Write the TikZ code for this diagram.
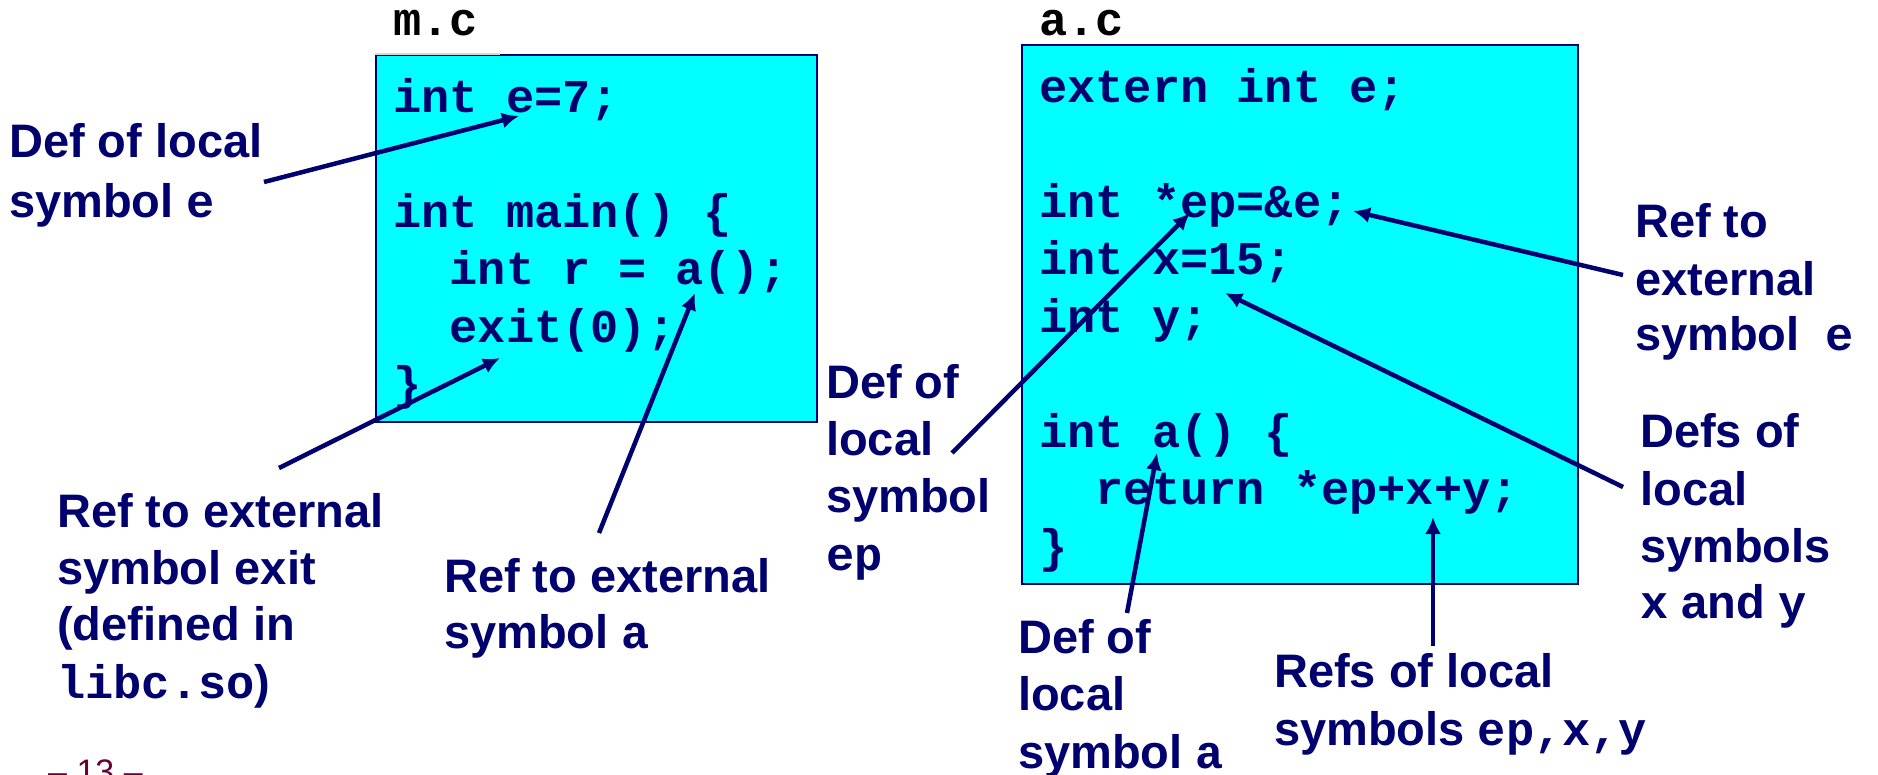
\documentclass[tikz,border=0pt]{standalone}
\usepackage{fontspec}
\setmainfont{Liberation Sans}
\newfontfamily\codefont{Liberation Mono}
\usetikzlibrary{arrows.meta}
\definecolor{navy}{RGB}{0,0,110}
\definecolor{boxcyan}{RGB}{0,255,255}
\definecolor{pagered}{RGB}{102,0,51}
\begin{document}
\begin{tikzpicture}[x=1pt,y=-1pt,
  lbl/.style={anchor=base west, inner sep=0pt, text=navy, font=\bfseries\fontsize{47}{56}\selectfont},
  code/.style={anchor=base west, inner sep=0pt, text=navy, font=\codefont\bfseries\fontsize{47}{56}\selectfont},
  fname/.style={anchor=base west, inner sep=0pt, text=black, font=\codefont\bfseries\fontsize{47}{56}\selectfont},
  srcbox/.style={draw=navy, line width=1.5pt, fill=boxcyan, anchor=north west, inner sep=0pt},
  arr/.style={draw=navy, line width=4.5pt, -{Latex[length=17pt,width=16pt]}},
]
\useasboundingbox (0,0) rectangle (1878,774);
\fill[white] (0,0) rectangle (1878,774);

% file names
\node[fname] (mname) at (393,35) {m.c};
\node[fname] (aname) at (1039,35) {a.c};

% boxes
\node[srcbox, minimum width=441pt, minimum height=367pt] (mbox) at (375,54) {};
\draw[color=black!15, line width=1.5pt] (375,54) -- (500,54);
\node[srcbox, minimum width=556pt, minimum height=539pt] (abox) at (1021,44) {};

% m.c code
\node[code] (m1) at (393,112) {int e=7;};
\node[code] (m2) at (393,227) {int main() \{};
\node[code] (m3) at (449.4,284.5) {int r = a();};
\node[code] (m4) at (449.4,342) {exit(0);};
\node[code] (m5) at (393,399) {\}};

% a.c code
\node[code] (a1) at (1039,102) {extern int e;};
\node[code] (a2) at (1039,217) {int *ep=\&e;};
\node[code] (a3) at (1039,274.5) {int x=15;};
\node[code] (a4) at (1039,332) {int y;};
\node[code] (a5) at (1039,447) {int a() \{};
\node[code] (a6) at (1095.4,504.5) {return *ep+x+y;};
\node[code] (a7) at (1039,562) {\}};

% labels
\node[lbl] (l1a) at (9,157) {Def of local};
\node[lbl] (l1b) at (9,217) {symbol {\codefont e}};

\node[lbl] (l2a) at (57,527) {Ref to external};
\node[lbl] (l2b) at (57,584) {symbol exit};
\node[lbl] (l2c) at (57,640) {(defined in};
\node[lbl] (l2d) at (57,698) {{\codefont libc.so})};

\node[lbl] (l3a) at (444,592) {Ref to external};
\node[lbl] (l3b) at (444,648) {symbol {\codefont a}};

\node[lbl] (l4a) at (826,398) {Def of};
\node[lbl] (l4b) at (826,455) {local};
\node[lbl] (l4c) at (826,512) {symbol};
\node[lbl] (l4d) at (826,570) {{\codefont ep}};

\node[lbl] (l5a) at (1635,237) {Ref to};
\node[lbl] (l5b) at (1635,295) {external};
\node[lbl] (l5c) at (1635,350) {symbol\hspace{26pt}{\codefont e}};

\node[lbl] (l6a) at (1640,447) {Defs of};
\node[lbl] (l6b) at (1640,505) {local};
\node[lbl] (l6c) at (1640,562) {symbols};
\node[lbl] (l6d) at (1640,618) {{\codefont x} and {\codefont y}};

\node[lbl] (l7a) at (1018,653) {Def of};
\node[lbl] (l7b) at (1018,710.5) {local};
\node[lbl] (l7c) at (1018,768) {symbol {\codefont a}};

\node[lbl] (l8a) at (1274,687) {Refs of local};
\node[lbl] (l8b) at (1274,745) {symbols {\codefont ep,x,y}};

% page number
\node[anchor=base west, inner sep=0pt, text=pagered, font=\fontsize{34}{40}\selectfont] (pnum) at (48,783) {– 13 –};

% arrow end points
\coordinate (t1) at (264,182);  \coordinate (h1) at (519,116);
\coordinate (t2) at (279,468);  \coordinate (h2) at (500,358);
\coordinate (t3) at (599,533);  \coordinate (h3) at (695,293);
\coordinate (t4) at (952,453);  \coordinate (h4) at (1190,213);
\coordinate (t5) at (1623,275); \coordinate (h5) at (1353,211);
\coordinate (t6) at (1623,487); \coordinate (h6) at (1225,293);
\coordinate (t7) at (1127,613); \coordinate (h7) at (1157,453);
\coordinate (t8) at (1433,646); \coordinate (h8) at (1433,517);

\draw[arr] (t1) -- (h1);
\draw[arr] (t2) -- (h2);
\draw[arr] (t3) -- (h3);
\draw[arr] (t4) -- (h4);
\draw[arr] (t5) -- (h5);
\draw[arr] (t6) -- (h6);
\draw[arr] (t7) -- (h7);
\draw[arr] (t8) -- (h8);
\end{tikzpicture}
\end{document}
